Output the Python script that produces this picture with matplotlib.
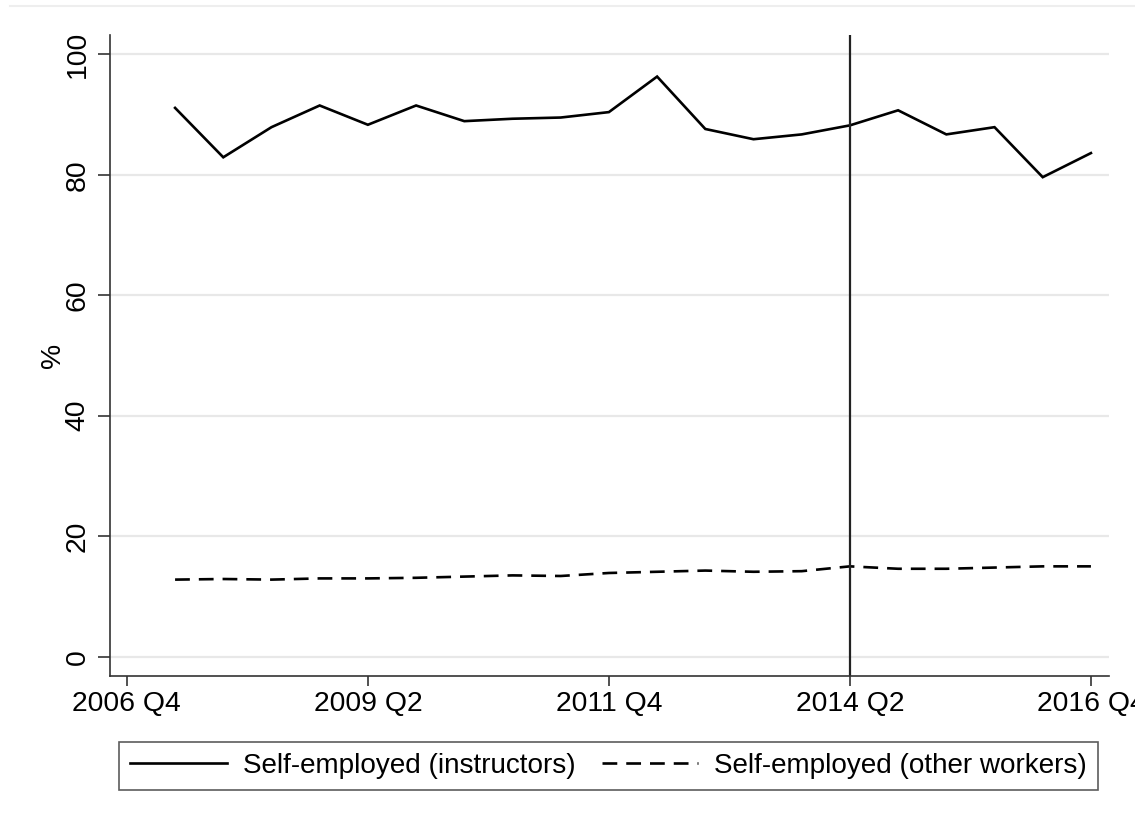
import matplotlib
matplotlib.use("Agg")
import matplotlib.pyplot as plt
from matplotlib.lines import Line2D

plt.rcParams['font.family'] = ['Liberation Sans', 'DejaVu Sans']

# quarters since 2006 Q4 (data every 2 quarters, 2007 Q2 .. 2016 Q4)
quarters = [2, 4, 6, 8, 10, 12, 14, 16, 18, 20, 22, 24, 26, 28, 30, 32, 34, 36, 38, 40]
instructors = [91.1, 82.9, 87.9, 91.5, 88.3, 91.5, 88.9, 89.3, 89.5, 90.4,
               96.3, 87.6, 85.9, 86.7, 88.2, 90.7, 86.7, 87.9, 79.6, 83.6]
other_workers = [12.8, 12.9, 12.8, 13.0, 13.0, 13.1, 13.3, 13.5, 13.4, 13.9,
                 14.1, 14.3, 14.1, 14.2, 15.0, 14.6, 14.6, 14.8, 15.0, 15.0]
xtick_pos = [0, 10, 20, 30, 40]
xtick_labels = ["2006 Q4", "2009 Q2", "2011 Q4", "2014 Q2", "2016 Q4"]
ytick_pos = [0, 20, 40, 60, 80, 100]
event_quarter = 30
labels = ["Self-employed (instructors)", "Self-employed (other workers)"]

FS = 20.4

fig = plt.figure(figsize=(11.35, 8.21), dpi=100)
ax = fig.add_axes([110/1135, 1-676/821, (1109-110)/1135, (676-35)/821])

ax.plot(quarters, instructors, color='black', lw=1.9, solid_joinstyle='miter', label=labels[0])
ax.plot(quarters, other_workers, color='black', lw=1.9, dashes=(5.6, 3.4), label=labels[1])
ax.axvline(event_quarter, color='#222222', lw=1.6)

ax.set_xlim(-0.7, 40.75)
ax.set_ylim(-3.2, 103.2)
ax.set_xticks(xtick_pos)
ax.set_xticklabels(xtick_labels)
ax.set_yticks(ytick_pos)
ax.set_yticklabels([str(v) for v in ytick_pos], rotation=90, va='center')
ax.grid(axis='y', color='#e8e8e8', lw=1.6)
ax.set_axisbelow(True)
for s in ['top', 'right']:
    ax.spines[s].set_visible(False)
for s in ['left', 'bottom']:
    ax.spines[s].set_color('#333333')
    ax.spines[s].set_linewidth(1.2)
ax.tick_params(axis='x', length=7, width=1.2, color='#333333', labelsize=FS, pad=4)
ax.tick_params(axis='y', length=9, width=1.2, color='#333333', labelsize=FS, pad=5)
ax.set_ylabel('%', fontsize=FS, labelpad=-1)

# faint top border line
fig.add_artist(Line2D([10/1135, 1.0], [1-6/821, 1-6/821], color='#eeeeee', lw=1.5))

leg = fig.legend(loc='center', bbox_to_anchor=(608.5/1135, 1-766/821), ncol=2,
                 fontsize=20.1, frameon=True, fancybox=False, edgecolor='#333333',
                 handlelength=3.45, handletextpad=0.57, columnspacing=0.95,
                 borderpad=0.4, borderaxespad=0)
leg.get_frame().set_linewidth(1.2)

fig.savefig('out.png', dpi=100, facecolor='white')
